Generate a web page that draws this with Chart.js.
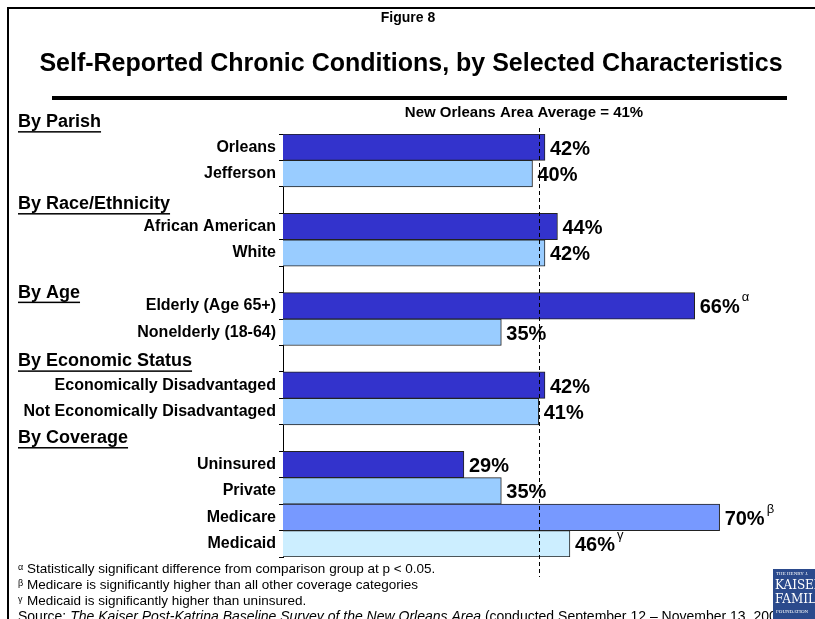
<!DOCTYPE html>
<html>
<head>
<meta charset="utf-8">
<script src="https://cdn.jsdelivr.net/npm/chart.js@4"></script>
<style>
  body { margin: 0; background: #fff; }
  canvas { display: block; }
</style>
</head>
<body>
<canvas id="chart" width="815" height="619"></canvas>
<script>
// categories, blank entries are the gaps between groups
const categories = ['Orleans', 'Jefferson', '',
  'African American', 'White', '',
  'Elderly (Age 65+)', 'Nonelderly (18-64)', '',
  'Economically Disadvantaged', 'Not Economically Disadvantaged', '',
  'Uninsured', 'Private', 'Medicare', 'Medicaid'];
const values = [42, 40, null, 44, 42, null, 66, 35, null, 42, 41, null, 29, 35, 70, 46];
const marks = ['', '', '', '', '', '', 'α', '', '', '', '', '', '', '', 'β', 'γ'];
const barColors = ['#3333CC', '#99CCFF', null, '#3333CC', '#99CCFF', null,
  '#3333CC', '#99CCFF', null, '#3333CC', '#99CCFF', null,
  '#3333CC', '#99CCFF', '#7799FF', '#CCEEFF'];
const groups = ['By Parish', 'By Race/Ethnicity', 'By Age', 'By Economic Status', 'By Coverage'];
const groupRows = [-0.95, 2.15, 5.5, 8.1, 11.0];
const average = 41;
const footnotes = [
  ['α', 'Statistically significant difference from comparison group at p < 0.05.'],
  ['β', 'Medicare is significantly higher than all other coverage categories'],
  ['γ', 'Medicaid is significantly higher than uninsured.']
];

const FONT = 'Arial, "Liberation Sans", sans-serif';

const decorations = {
  id: 'decorations',
  beforeDraw(chart) {
    const ctx = chart.ctx;
    ctx.save();
    ctx.fillStyle = '#fff';
    ctx.fillRect(0, 0, chart.width, chart.height);
    // frame
    ctx.strokeStyle = '#000';
    ctx.lineWidth = 2;
    ctx.beginPath();
    ctx.moveTo(8, chart.height);
    ctx.lineTo(8, 8);
    ctx.lineTo(chart.width, 8);
    ctx.stroke();
    // titles
    ctx.fillStyle = '#000';
    ctx.textAlign = 'center';
    ctx.textBaseline = 'middle';
    ctx.font = 'bold 14px ' + FONT;
    ctx.fillText('Figure 8', 408, 18);
    ctx.font = 'bold 25px ' + FONT;
    ctx.fillText('Self-Reported Chronic Conditions, by Selected Characteristics', 411, 64, 757);
    ctx.fillRect(52, 96, 735, 4);
    ctx.restore();
  },
  afterDatasetsDraw(chart) {
    const ctx = chart.ctx;
    const x = chart.scales.x;
    const y = chart.scales.y;
    ctx.save();
    // average line
    const ax = Math.round(x.getPixelForValue(average)) + 0.5;
    ctx.strokeStyle = '#000';
    ctx.lineWidth = 1;
    ctx.setLineDash([4, 3]);
    ctx.beginPath();
    ctx.moveTo(ax, chart.chartArea.top - 6);
    ctx.lineTo(ax, chart.chartArea.bottom + 20);
    ctx.stroke();
    ctx.setLineDash([]);
    ctx.fillStyle = '#000';
    ctx.textAlign = 'center';
    ctx.textBaseline = 'middle';
    ctx.font = 'bold 15px ' + FONT;
    ctx.fillText('New Orleans Area Average = ' + average + '%', 524, 113);

    // value labels
    const meta = chart.getDatasetMeta(0);
    meta.data.forEach((bar, i) => {
      if (values[i] == null) return;
      ctx.textAlign = 'left';
      ctx.font = 'bold 20px ' + FONT;
      const label = values[i] + '%';
      const tx = bar.x + 5;
      ctx.fillText(label, tx, bar.y + 2);
      if (marks[i]) {
        const w = ctx.measureText(label).width;
        ctx.font = '13px ' + FONT;
        ctx.fillText(marks[i], tx + w + 2, bar.y - 8);
      }
    });

    // group headings
    ctx.textAlign = 'left';
    ctx.font = 'bold 18px ' + FONT;
    groups.forEach((g, i) => {
      const gy = y.getPixelForValue(groupRows[i]);
      ctx.fillText(g, 18, gy);
      const w = ctx.measureText(g).width;
      ctx.fillRect(18, gy + 9, w, 1.5);
    });

    // footnotes
    ctx.textBaseline = 'middle';
    footnotes.forEach((f, i) => {
      const fy = 569 + i * 16;
      ctx.font = '9px ' + FONT;
      ctx.fillText(f[0], 18, fy - 1);
      ctx.font = '13.5px ' + FONT;
      ctx.fillText(f[1], 27, fy);
    });
    let sx = 18;
    const parts = [['Source: ', ''], ['The Kaiser Post-Katrina Baseline Survey of the New Orleans Area', 'italic '],
      [' (conducted September 12 – November 13, 2006).', '']];
    parts.forEach(p => {
      ctx.font = p[1] + '14px ' + FONT;
      ctx.fillText(p[0], sx, 617);
      sx += ctx.measureText(p[0]).width;
    });

    // logo
    ctx.fillStyle = '#2B4A8C';
    ctx.fillRect(773, 569, 42, 50);
    ctx.fillStyle = '#fff';
    ctx.font = '5px serif';
    ctx.fillText('THE HENRY J.', 776, 574);
    ctx.font = '12px "DejaVu Serif", serif';
    ctx.fillText('KAISER', 775, 586);
    ctx.fillText('FAMILY', 775, 600);
    ctx.font = '5px serif';
    ctx.fillText('FOUNDATION', 776, 612);
    ctx.restore();
  }
};

new Chart(document.getElementById('chart'), {
  type: 'bar',
  data: {
    labels: categories,
    datasets: [{
      data: values,
      backgroundColor: barColors,
      borderColor: '#222',
      borderWidth: 1,
      barPercentage: 1,
      categoryPercentage: 1
    }]
  },
  options: {
    indexAxis: 'y',
    responsive: false,
    animation: false,
    devicePixelRatio: 1,
    layout: { padding: { top: 134, bottom: 62, left: 0, right: 33 } },
    plugins: { legend: { display: false }, tooltip: { enabled: false } },
    scales: {
      x: { min: 0, max: 80, display: false },
      y: {
        afterFit: s => { s.width = 283; },
        grid: { drawOnChartArea: false, tickLength: 4, color: '#000', offset: true },
        border: { color: '#000', width: 1 },
        ticks: {
          color: '#000',
          padding: 3,
          autoSkip: false,
          font: { family: FONT, weight: 'bold', size: 16 }
        }
      }
    }
  },
  plugins: [decorations]
});
</script>
</body>
</html>
